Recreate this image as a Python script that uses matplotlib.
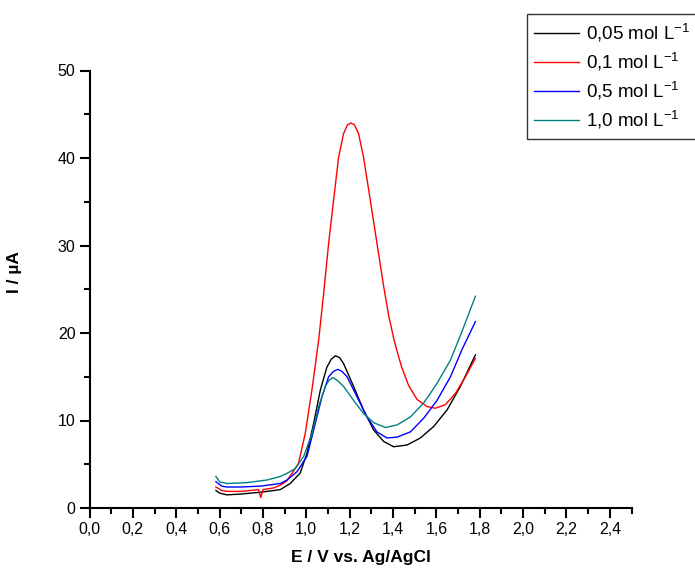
import matplotlib.pyplot as plt
from matplotlib.ticker import MultipleLocator, FormatStrFormatter, FuncFormatter

plt.rcParams['font.family'] = ['Liberation Sans', 'DejaVu Sans']
plt.rcParams['mathtext.fontset'] = 'custom'
plt.rcParams['mathtext.rm'] = 'Liberation Sans'

# potential (V vs Ag/AgCl) and current (uA)
e_black = [0.583, 0.60, 0.634, 0.70, 0.788, 0.85, 0.88, 0.926, 0.972, 1.003, 1.034, 1.065,
           1.095, 1.115, 1.134, 1.153, 1.172, 1.218, 1.264, 1.311, 1.357, 1.403, 1.465,
           1.526, 1.587, 1.649, 1.711, 1.78]
i_black = [2.0, 1.7, 1.5, 1.6, 1.8, 2.0, 2.1, 2.8, 4.0, 6.25, 9.7, 13.5,
           16.1, 17.0, 17.4, 17.2, 16.5, 13.9, 11.2, 8.9, 7.6, 7.0, 7.2,
           8.0, 9.3, 11.2, 13.9, 17.5]

e_red = [0.583, 0.61, 0.634, 0.70, 0.78, 0.79, 0.80, 0.85, 0.88, 0.91, 0.934, 0.964, 0.995,
         1.026, 1.057, 1.08, 1.103, 1.126, 1.149, 1.172, 1.19, 1.206, 1.222, 1.241, 1.264,
         1.295, 1.326, 1.357, 1.38, 1.403, 1.42, 1.44, 1.472, 1.511, 1.557, 1.595, 1.641,
         1.688, 1.734, 1.78]
i_red = [2.4, 2.0, 1.9, 1.9, 2.1, 1.2, 2.1, 2.3, 2.6, 3.1, 3.96, 5.1, 8.5,
         13.5, 19.2, 24.5, 30.25, 35.2, 40.1, 42.8, 43.8, 44.0, 43.8, 42.8, 40.1,
         35.2, 30.25, 25.3, 22.0, 19.4, 17.8, 16.1, 14.0, 12.4, 11.6, 11.4, 11.8,
         13.1, 15.0, 17.1]

e_blue = [0.583, 0.61, 0.634, 0.70, 0.788, 0.85, 0.88, 0.911, 0.957, 1.003, 1.034, 1.072,
          1.103, 1.125, 1.145, 1.165, 1.188, 1.234, 1.28, 1.326, 1.372, 1.419, 1.48,
          1.541, 1.603, 1.665, 1.718, 1.78]
i_blue = [3.0, 2.5, 2.4, 2.4, 2.5, 2.7, 2.8, 3.2, 4.15, 5.9, 8.9, 12.7,
          15.0, 15.6, 15.85, 15.6, 15.0, 12.7, 10.4, 8.7, 8.0, 8.1, 8.7,
          10.25, 12.3, 15.0, 18.1, 21.3]

e_teal = [0.583, 0.60, 0.634, 0.726, 0.819, 0.88, 0.911, 0.949, 0.988, 1.026, 1.057,
          1.088, 1.105, 1.123, 1.142, 1.172, 1.218, 1.264, 1.311, 1.365, 1.419, 1.48,
          1.541, 1.572, 1.603, 1.665, 1.72, 1.78]
i_teal = [3.6, 3.0, 2.8, 2.9, 3.2, 3.6, 3.96, 4.5, 5.9, 8.5, 11.6,
          13.9, 14.6, 14.9, 14.6, 13.9, 12.3, 10.8, 9.75, 9.2, 9.5, 10.4,
          12.0, 13.1, 14.25, 16.9, 20.3, 24.2]

labels = ['0,05 mol L$^{-1}$', '0,1 mol L$^{-1}$', '0,5 mol L$^{-1}$', '1,0 mol L$^{-1}$']
colors = ['black', '#ff0000', '#0000ff', '#008080']

fig = plt.figure(figsize=(6.95, 5.69), dpi=100)
ax = fig.add_axes([89.5 / 695, 1 - 508 / 569, 542 / 695, 437.5 / 569])

series = [(e_black, i_black), (e_red, i_red), (e_blue, i_blue), (e_teal, i_teal)]
for (e, i), lab, c in zip(series, labels, colors):
    ax.plot(e, i, color=c, lw=1.0, label=lab)

ax.set_xlim(0, 2.5)
ax.set_ylim(0, 50)
ax.xaxis.set_major_locator(MultipleLocator(0.2))
ax.xaxis.set_minor_locator(MultipleLocator(0.1))
ax.yaxis.set_major_locator(MultipleLocator(10))
ax.yaxis.set_minor_locator(MultipleLocator(5))
ax.xaxis.set_major_formatter(FuncFormatter(lambda v, p: ('%.1f' % v).replace('.', ',')))
ax.yaxis.set_major_formatter(FormatStrFormatter('%d'))

for s in ['top', 'right']:
    ax.spines[s].set_visible(False)
for s in ['left', 'bottom']:
    ax.spines[s].set_linewidth(1.5)
ax.tick_params(which='major', direction='out', length=7, width=1.5, labelsize=11.5, pad=3)
ax.tick_params(which='minor', direction='out', length=4, width=1.5)

ax.set_xlabel('E / V vs. Ag/AgCl', fontsize=12.5, fontweight='bold')
ax.xaxis.set_label_coords(0.5, -0.095)
ax.set_ylabel('I / \u00b5A', fontsize=12.5, fontweight='bold')
ax.yaxis.set_label_coords(-0.125, 0.54)

leg = fig.legend(loc='upper left', bbox_to_anchor=(527 / 695, 1 - 14 / 569),
                 fontsize=13.5, frameon=True, fancybox=False, borderaxespad=0,
                 handlelength=2.4, handletextpad=0.35, labelspacing=0.34,
                 borderpad=0.38)
leg.get_frame().set_edgecolor('black')
leg.get_frame().set_linewidth(1.0)

fig.savefig('out.png', dpi=100)
